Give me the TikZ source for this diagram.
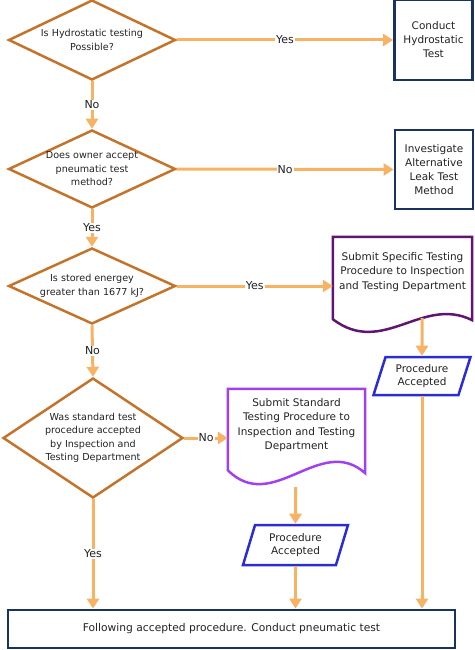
\documentclass[tikz,border=0pt]{standalone}
\usepackage{fontspec}
\setmainfont{DejaVu Sans}
\usepackage{tikz}
\usetikzlibrary{shapes.geometric, arrows.meta}
\definecolor{DecBrown}{RGB}{196,116,42}
\definecolor{FlowOrange}{RGB}{247,178,100}
\definecolor{BoxNavy}{RGB}{24,52,94}
\definecolor{DocPurple}{RGB}{96,22,112}
\definecolor{DocViolet}{RGB}{160,64,240}
\definecolor{IOBlue}{RGB}{44,44,212}
\definecolor{TxtGrey}{RGB}{34,34,34}
\tikzset{next/.style={-{Triangle[width=12pt,length=10pt]}, line width=3pt, draw=FlowOrange}}
\tikzset{decision/.style={diamond, draw=DecBrown, line width=2.5pt, aspect=2, inner sep=-3pt, align=center, text=TxtGrey, font=\fontsize{9.6}{13.5}\selectfont}}
\tikzset{process/.style={rectangle, draw=BoxNavy, line width=2.8pt, inner sep=0pt, align=center, text=TxtGrey, font=\fontsize{10.5}{14}\selectfont}}
\tikzset{docbox/.style={rectangle, inner sep=0pt, align=center, text=TxtGrey, font=\fontsize{10.5}{14.3}\selectfont}}
\tikzset{iobox/.style={trapezium, trapezium left angle=63, trapezium right angle=117, trapezium stretches body, draw=IOBlue, line width=2.5pt, inner sep=0pt, align=center, text=TxtGrey, font=\fontsize{10.5}{13.5}\selectfont}}
\tikzset{edgelabel/.style={fill=white, inner sep=1pt, text=TxtGrey, font=\fontsize{11}{12}\selectfont}}

\begin{document}
\begin{tikzpicture}[x=1pt, y=-1pt]
        \useasboundingbox (0,0) rectangle (474,650);

        % left column: the questions
        \node (q1) at (92,40) [decision, minimum width=167, minimum height=80] {Is Hydrostatic testing\\Possible?};
        \node (q2) at (92,169) [decision, minimum width=167, minimum height=78] {Does owner accept\\pneumatic test\\method?};
        \node (q3) at (92,286) [decision, minimum width=167, minimum height=76] {Is stored energey\\greater than 1677 kJ?};
        \node (q4) at (93,438) [decision, aspect=1.5, minimum width=180, minimum height=120] {Was standard test\\procedure accepted\\by Inspection and\\Testing Department};

        \node (hydro) at (433.5,40) [process, minimum width=78, minimum height=80] {Conduct\\Hydrostatic\\Test};
        \node (altleak) at (434,169.5) [process, minimum width=78, minimum height=79] {Investigate\\Alternative\\Leak Test\\Method};

        \node (spec) at (402.5,272) [docbox, minimum width=139, minimum height=70] {Submit Specific Testing\\Procedure to Inspection\\and Testing Department};
        \draw[draw=DocPurple, line width=2.5pt] (spec.north west) -- (spec.north east) -- ([yshift=-13pt]spec.south east)
            .. controls +(-50,-25) and +(50,38) .. ([yshift=-12pt]spec.south west) -- cycle;
        \coordinate (specout) at (422,318);

        \node (std) at (296.5,425) [docbox, minimum width=137, minimum height=72] {Submit Standard\\Testing Procedure to\\Inspection and Testing\\Department};
        \draw[draw=DocViolet, line width=2.5pt] (std.north west) -- (std.north east) -- ([yshift=-12pt]std.south east)
            .. controls +(-45,-40) and +(45,45) .. ([yshift=-9pt]std.south west) -- cycle;
        \coordinate (stdout) at (295.5,487);

        \node (acc1) at (422,376) [iobox, minimum width=97, minimum height=38] {Procedure\\Accepted};
        \node (acc2) at (295.5,545) [iobox, minimum width=105, minimum height=40] {Procedure\\Accepted};

        \node (final) at (231.5,629) [process, minimum width=447, minimum height=38, font=\fontsize{10.7}{13}\selectfont] {Following accepted procedure. Conduct pneumatic test};

        \draw[next] (q1.east) -- node[edgelabel] {Yes} (hydro.west);
        \draw[next] (q1.south) -- node[edgelabel] {No} (q2.north);
        \draw[next] (q2.east) -- node[edgelabel] {No} (altleak.west);
        \draw[next] (q2.south) -- node[edgelabel] {Yes} (q3.north);
        \draw[next] (q3.east) -- node[edgelabel] {Yes} (q3.east -| spec.west);
        \draw[next] (q3.south) -- node[edgelabel] {No} (q4.north);
        \draw[next] (q4.east) -- node[edgelabel] {No} (q4.east -| std.west);
        \draw[next] (q4.south) -- node[edgelabel] {Yes} (q4.south |- final.north);

        \draw[next] (specout) -- (acc1.north);
        \draw[next] (acc1.south) -- (acc1.south |- final.north);
        \draw[next] (stdout) -- (acc2.north);
        \draw[next] (acc2.south) -- (acc2.south |- final.north);

\end{tikzpicture}
\end{document}
